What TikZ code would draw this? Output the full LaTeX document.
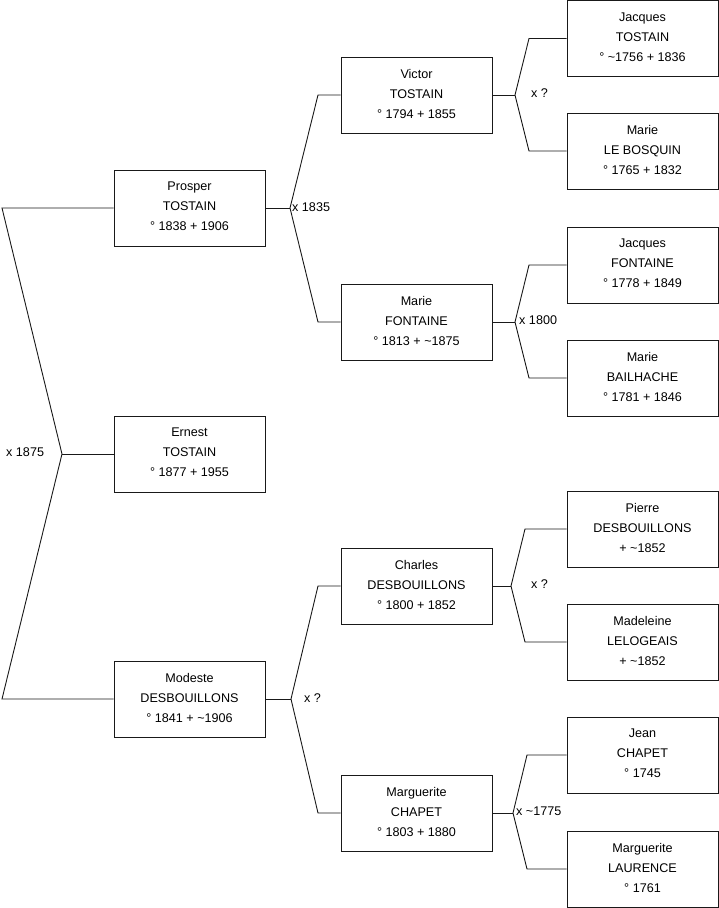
\documentclass[tikz,border=0pt]{standalone}
\usepackage{fontspec}
\setmainfont{Liberation Sans}
\begin{document}
\begin{tikzpicture}[x=1pt,y=-1pt,
  person/.style={draw=black!90, line width=0.9pt, minimum width=151pt, minimum height=76pt, inner sep=0pt, align=center, font=\fontsize{12.6}{20}\selectfont, execute at end node={\rule[-3pt]{0pt}{1pt}}},
  link/.style={draw=black!90, line width=0.9pt},
  lbl/.style={anchor=west, inner sep=0pt, font=\fontsize{12.6}{14}\selectfont}]
\useasboundingbox (0,0) rectangle (719,908);
% column 1
\node[person] (prosper) at (189.5,208) {Prosper\\TOSTAIN\\° 1838 + 1906};
\node[person] (ernest) at (189.5,454) {Ernest\\TOSTAIN\\° 1877 + 1955};
\node[person] (modeste) at (189.5,699) {Modeste\\DESBOUILLONS\\° 1841 + \textasciitilde1906};
% column 2
\node[person] (victor) at (416.5,95) {Victor\\TOSTAIN\\° 1794 + 1855};
\node[person] (mariefo) at (416.5,322) {Marie\\FONTAINE\\° 1813 + \textasciitilde1875};
\node[person] (charles) at (416.5,586) {Charles\\DESBOUILLONS\\° 1800 + 1852};
\node[person] (margch) at (416.5,813) {Marguerite\\CHAPET\\° 1803 + 1880};
% column 3
\node[person] (jacqt) at (642.5,38.5) {Jacques\\TOSTAIN\\° \textasciitilde1756 + 1836};
\node[person] (mariel) at (642.5,151) {Marie\\LE BOSQUIN\\° 1765 + 1832};
\node[person] (jacqf) at (642.5,265) {Jacques\\FONTAINE\\° 1778 + 1849};
\node[person] (marieb) at (642.5,378) {Marie\\BAILHACHE\\° 1781 + 1846};
\node[person] (pierre) at (642.5,529) {Pierre\\DESBOUILLONS\\+ \textasciitilde1852};
\node[person] (madel) at (642.5,642) {Madeleine\\LELOGEAIS\\+ \textasciitilde1852};
\node[person] (jean) at (642.5,755) {Jean\\CHAPET\\° 1745};
\node[person] (margl) at (642.5,869) {Marguerite\\LAURENCE\\° 1761};
% junction coordinates
\coordinate (a1) at (2,208);
\coordinate (a2) at (62,454);
\coordinate (a3) at (2,699);
\coordinate (p0) at (290,208);
\coordinate (p1) at (318,95);
\coordinate (p2) at (318,322);
\coordinate (v0) at (515,95);
\coordinate (v1) at (529,38.5);
\coordinate (v2) at (529,151);
\coordinate (f0) at (515,322);
\coordinate (f1) at (529,265);
\coordinate (f2) at (529,378);
\coordinate (m0) at (291,699);
\coordinate (m1) at (318,586);
\coordinate (m2) at (318,813);
\coordinate (c0) at (511,586);
\coordinate (c1) at (525,529);
\coordinate (c2) at (525,642);
\coordinate (g0) at (513,813);
\coordinate (g1) at (527,755);
\coordinate (g2) at (527,869);
% connectors
\draw[link] (prosper.west) -- (a1) -- (a2) -- (a3) -- (modeste.west);
\draw[link] (a2) -- (ernest.west);
\draw[link] (prosper.east) -- (p0);
\draw[link] (victor.west) -- (p1) -- (p0) -- (p2) -- (mariefo.west);
\draw[link] (victor.east) -- (v0);
\draw[link] (jacqt.west) -- (v1) -- (v0) -- (v2) -- (mariel.west);
\draw[link] (mariefo.east) -- (f0);
\draw[link] (jacqf.west) -- (f1) -- (f0) -- (f2) -- (marieb.west);
\draw[link] (modeste.east) -- (m0);
\draw[link] (charles.west) -- (m1) -- (m0) -- (m2) -- (margch.west);
\draw[link] (charles.east) -- (c0);
\draw[link] (pierre.west) -- (c1) -- (c0) -- (c2) -- (madel.west);
\draw[link] (margch.east) -- (g0);
\draw[link] (jean.west) -- (g1) -- (g0) -- (g2) -- (margl.west);
% marriage labels
\node[lbl] (l1) at (6,452) {x 1875};
\node[lbl] (l2) at (292,207) {x 1835};
\node[lbl] (l3) at (531,93) {x ?};
\node[lbl] (l4) at (519,320) {x 1800};
\node[lbl] (l5) at (304,698) {x ?};
\node[lbl] (l6) at (531,584) {x ?};
\node[lbl] (l7) at (516,811) {x \textasciitilde1775};
\end{tikzpicture}
\end{document}
